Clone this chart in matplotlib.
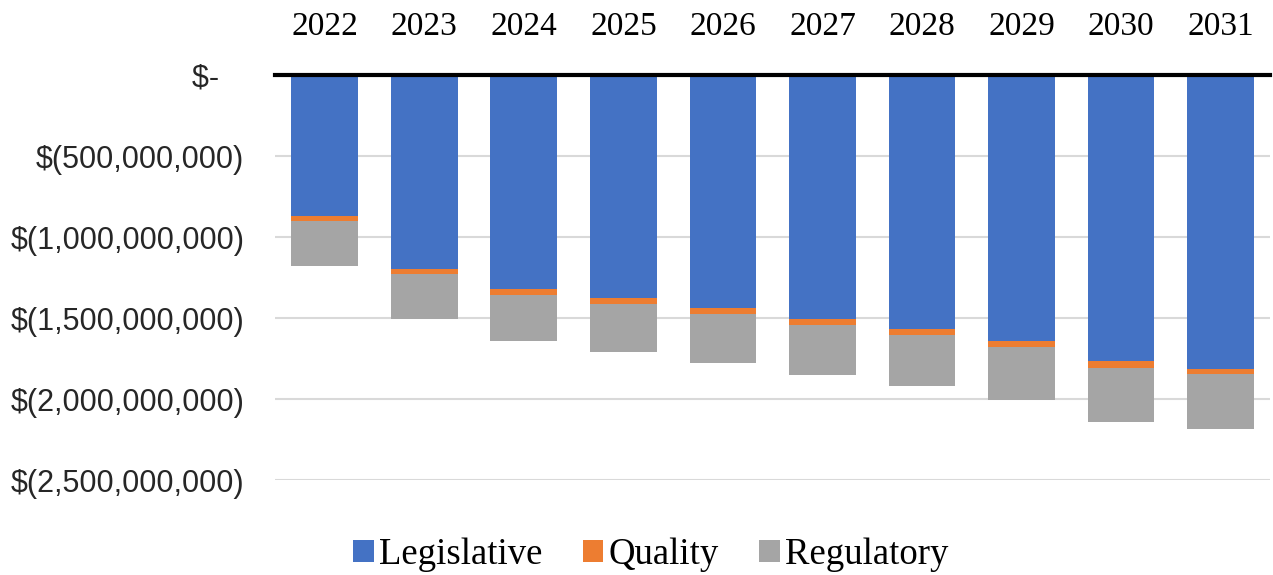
import matplotlib
matplotlib.use("Agg")
import matplotlib.pyplot as plt
from matplotlib.ticker import FuncFormatter
from matplotlib.patches import Patch

years = ["2022", "2023", "2024", "2025", "2026", "2027", "2028", "2029", "2030", "2031"]
legislative = [-0.867e9, -1.194e9, -1.320e9, -1.378e9, -1.437e9, -1.505e9, -1.567e9, -1.643e9, -1.767e9, -1.812e9]
quality = [-0.031e9, -0.031e9, -0.037e9, -0.034e9, -0.035e9, -0.035e9, -0.035e9, -0.037e9, -0.040e9, -0.035e9]
regulatory = [-0.278e9, -0.280e9, -0.286e9, -0.297e9, -0.305e9, -0.309e9, -0.315e9, -0.323e9, -0.334e9, -0.335e9]
series_names = ["Legislative", "Quality", "Regulatory"]
colors = ["#4472C4", "#ED7D31", "#A5A5A5"]

fig = plt.figure(figsize=(12.73, 5.75), dpi=100)
ax = fig.add_axes([0.216, 0.165, 0.782, 0.704])

x = list(range(len(years)))
bottom = [0.0] * len(years)
for vals, c in zip([legislative, quality, regulatory], colors):
    ax.bar(x, vals, width=0.67, bottom=bottom, color=c, zorder=2)
    bottom = [b + v for b, v in zip(bottom, vals)]

ax.set_xlim(-0.5, len(years) - 0.5)
ax.set_ylim(-2.5e9, 0)
ticks = [0, -0.5e9, -1.0e9, -1.5e9, -2.0e9, -2.5e9]
ax.set_yticks(ticks)

def fmt(v, pos):
    if abs(v) < 1:
        return "$-   "
    return "$({:,.0f})".format(abs(v))

ax.yaxis.set_major_formatter(FuncFormatter(fmt))
ax.grid(axis="y", color="#D9D9D9", linewidth=1.5, zorder=0)
ax.axhline(0, color="black", linewidth=3, zorder=3, clip_on=False)
for s in ax.spines.values():
    s.set_visible(False)
ax.tick_params(axis="y", length=0, pad=22, labelsize=22)
for lab in ax.get_yticklabels():
    lab.set_fontfamily("Liberation Sans")
    lab.set_color("#262626")

ax.xaxis.tick_top()
ax.set_xticks(x)
ax.set_xticklabels(years, fontfamily="Liberation Serif", fontsize=24)
ax.tick_params(axis="x", length=0, pad=24)

handles = [Patch(facecolor=c, label=n) for n, c in zip(series_names, colors)]
fig.legend(handles=handles, loc="center", bbox_to_anchor=(651 / 1273, 1 - 555 / 575),
           ncol=3, frameon=False, prop={"family": "Liberation Serif", "size": 26.5},
           handlelength=0.55, handleheight=0.55, handletextpad=0.15, columnspacing=1.1,
           borderpad=0.1)

fig.savefig("out.png", dpi=100)
